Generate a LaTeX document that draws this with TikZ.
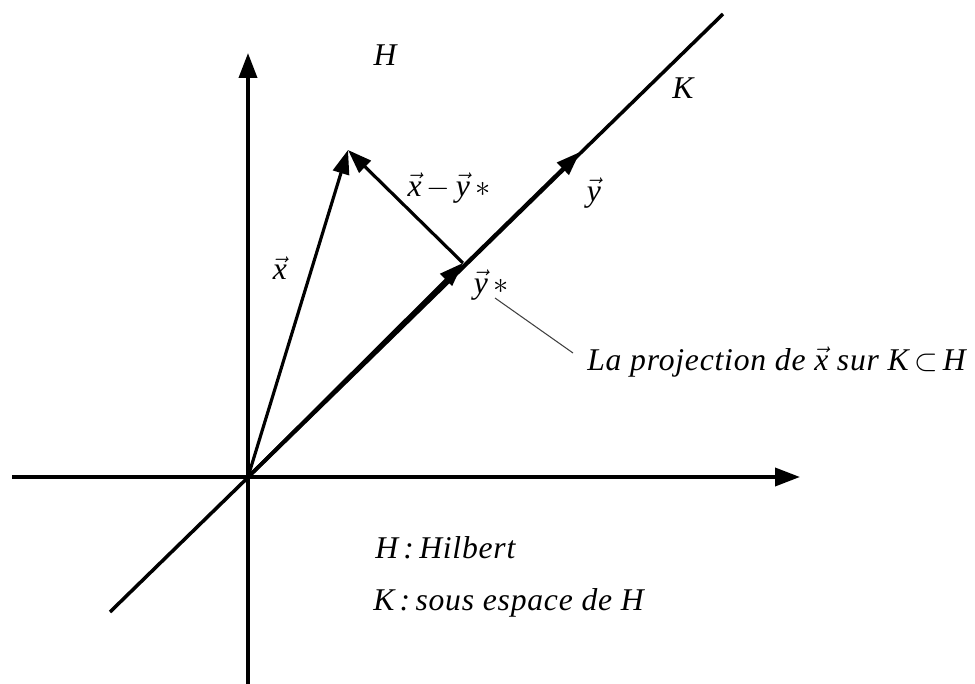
\documentclass[tikz,border=0pt]{standalone}
\usepackage{fontspec}
\setmainfont{Liberation Serif}[LetterSpace=2.5]
\usepackage{tikz}
\usetikzlibrary{arrows.meta}

\newcommand{\vecx}{$\vec{\textit{x}}$}
\newcommand{\vecy}{$\vec{\textit{y}}$}

\begin{document}
\begin{tikzpicture}[x=0.2mm, y=-0.2mm,
  axisline/.style={line width=2.1pt, -{Triangle[length=5mm, width=3.6mm]}},
  vect/.style={line width=1.8pt, -{Triangle[length=4.8mm, width=3.3mm]}},
  lbl/.style={font=\fontsize{18}{21}\selectfont\itshape, inner sep=0pt}]
  \useasboundingbox (0,0) rectangle (975,684);

  % Points
  \coordinate (O) at (248,477);
  \coordinate (xl) at (12,477);
  \coordinate (xr) at (800,477);
  \coordinate (yb) at (248,684);
  \coordinate (yt) at (248,53);
  \coordinate (kl) at (110,612);
  \coordinate (kt) at (723,14);
  \coordinate (X) at (348,150);
  \coordinate (Ys) at (463,263);
  \coordinate (Y) at (580,152);

  % Axes and the subspace K
  \draw[axisline] (xl) -- (xr);
  \draw[axisline] (yb) -- (yt);
  \draw[line width=2pt] (kl) -- (kt);

  % Vectors
  \draw[vect] (O) -- (X);
  \draw[vect] (O) -- (Ys);
  \draw[vect, line width=2pt] (O) -- (Y);
  \draw[vect] (Ys) -- (X);

  % Labels
  \node[lbl] (hlab) at (385,55) {H};
  \node[lbl] (klab) at (683,88) {K};
  \node[lbl] (xlab) at (280,268) {\vecx};
  \node[lbl] (xylab) at (449,188) {\vecx\,$-$\,\vecy\,$\ast$};
  \node[lbl] (ylab) at (594,193) {\vecy};
  \node[lbl] (yslab) at (491,285) {\vecy\,$\ast$};

  % Annotation
  \node[lbl, anchor=west] (proj) at (587,362)
       {La projection de \vecx{} sur K\,$\subset$\,H};
  \coordinate (a1) at (495,298);
  \coordinate (a2) at (573,353);
  \draw[line width=0.6pt, black!75] (a1) -- (a2);

  % Legend
  \node[lbl, anchor=west] (leg1) at (375,548) {H\,:\,Hilbert};
  \node[lbl, anchor=west] (leg2) at (373,603) {K\,:\,sous espace de H};
\end{tikzpicture}
\end{document}
